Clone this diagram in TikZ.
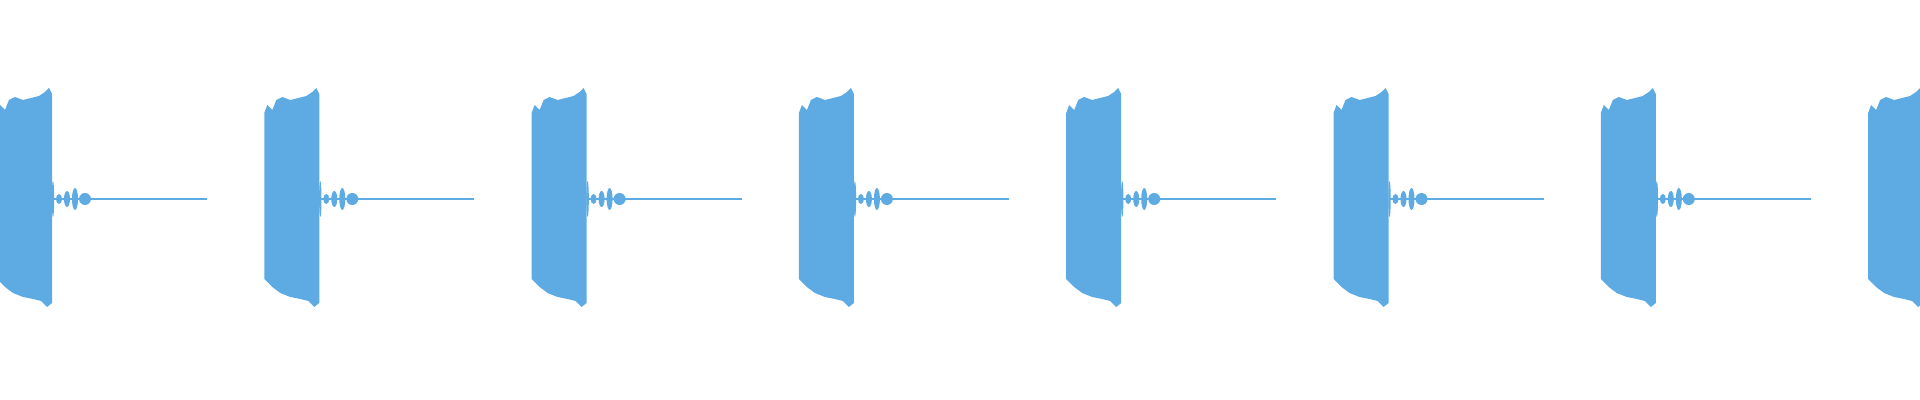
\documentclass[tikz,border=0pt]{standalone}
\usepackage{tikz}
\definecolor{wave}{HTML}{5DABE2}
\tikzset{burst/.style={fill=wave,draw=none},tail/.style={draw=wave,line width=0.6pt}}
\begin{document}
\begin{tikzpicture}[x=0.5pt,y=-0.5pt]
\useasboundingbox (0,0) rectangle (1920,400);
\clip (0,0) rectangle (1920,400);
\foreach \i in {0,...,7}{
  \begin{scope}[shift={({267.3*\i-3},0)}]
    % loud part
    \path[burst] (0,199) -- (0,113) -- (3,105) -- (8,110) -- (12,100) -- (18,97) -- (26,100) -- (34,98) -- (42,96) -- (48,92) -- (52,88) -- (55,94)
      -- (55,303) -- (50,307) -- (44,301) -- (36,299) -- (26,297) -- (16,293) -- (8,287) -- (3,282) -- (0,279) -- cycle;
    % ringing tail
    \path[burst] (56,199) ellipse (1.2 and 18);
    \path[burst] (62,199) ellipse (3 and 5);
    \path[burst] (70,199) ellipse (3 and 8);
    \path[burst] (78,199) ellipse (3 and 11);
    \path[burst] (88,199) ellipse (6 and 6);
    \draw[tail] (56,199) -- (210,199);
    \path[burst] (100,197.8) rectangle (150,200.2);
    \path[burst] (166,197.8) rectangle (200,200.2);
  \end{scope}
}
\end{tikzpicture}
\end{document}
